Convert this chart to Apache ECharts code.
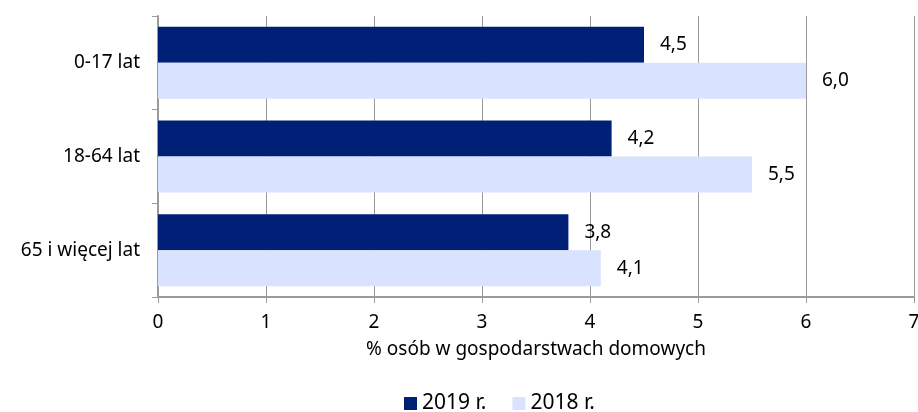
<!DOCTYPE html>
<html>
<head>
<meta charset="utf-8">
<script src="https://cdn.jsdelivr.net/npm/echarts@6/dist/echarts.min.js"></script>
<style>
  html, body { margin: 0; padding: 0; background: #fff; }
  #chart { width: 918px; height: 412px; }
</style>
</head>
<body>
<div id="chart"></div>
<script>
var categories = ['0-17 lat', '18-64 lat', '65 i więcej lat'];
var values2019 = [4.5, 4.2, 3.8];
var values2018 = [6.0, 5.5, 4.1];
var seriesNames = ['2019 r.', '2018 r.'];

var font = 'Noto Sans';
var chart = echarts.init(document.getElementById('chart'));

function labelFmt(p) {
  return p.value.toFixed(1).replace('.', ',');
}

var option = {
  animation: false,
  textStyle: { fontFamily: font },
  grid: { left: 158, right: 4, top: 16, bottom: 115, containLabel: false, outerBoundsMode: 'none' },
  legend: {
    top: 388,
    left: 399,
    itemWidth: 13,
    itemHeight: 13,
    itemGap: 26,
    icon: 'rect',
    textStyle: { fontFamily: font, fontSize: 21, color: '#000' },
    data: seriesNames
  },
  xAxis: {
    type: 'value',
    min: 0,
    max: 7,
    interval: 1,
    name: '% osób w gospodarstwach domowych',
    nameLocation: 'middle',
    nameGap: 43,
    nameTextStyle: { fontFamily: font, fontSize: 19, color: '#000' },
    axisLine: { show: true, lineStyle: { color: '#9a9a9a', width: 2 } },
    axisTick: { show: true, length: 6, lineStyle: { color: '#9a9a9a', width: 1 } },
    axisLabel: { fontFamily: font, fontSize: 19, color: '#000', margin: 16 },
    splitLine: { show: true, lineStyle: { color: '#9a9a9a', width: 1 } }
  },
  yAxis: {
    type: 'category',
    inverse: true,
    data: categories,
    axisLine: { show: true, lineStyle: { color: '#9a9a9a', width: 2 } },
    axisTick: { show: true, length: 6, lineStyle: { color: '#9a9a9a', width: 1 } },
    axisLabel: { fontFamily: font, fontSize: 19, color: '#000', margin: 18 }
  },
  series: [
    {
      name: seriesNames[0],
      type: 'bar',
      data: values2019,
      barWidth: 36,
      barGap: '0%',
      itemStyle: { color: '#001f77' },
      label: { show: true, position: 'right', distance: 16, fontFamily: font, fontSize: 19, color: '#000', formatter: labelFmt }
    },
    {
      name: seriesNames[1],
      type: 'bar',
      data: values2018,
      barWidth: 36,
      barGap: '0%',
      itemStyle: { color: '#d9e2fe' },
      label: { show: true, position: 'right', distance: 16, fontFamily: font, fontSize: 19, color: '#000', formatter: labelFmt }
    }
  ]
};
chart.setOption(option);
</script>
</body>
</html>
